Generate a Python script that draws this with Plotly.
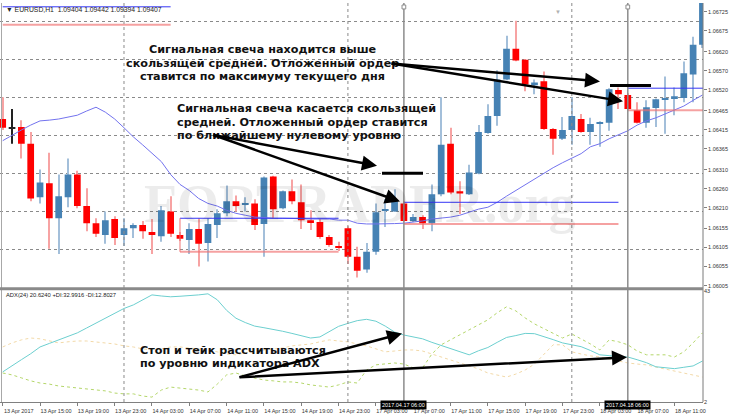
import plotly.graph_objects as go
import pandas as pd

# ---------------- data ----------------
times = list(pd.date_range('2017-04-13 11:00', '2017-04-14 23:00', freq='h')) + \
        list(pd.date_range('2017-04-17 00:00', '2017-04-18 14:00', freq='h'))

open_ = [1.06443, 1.06417, 1.06422, 1.06378, 1.06237, 1.06274, 1.06182, 1.06237, 1.06297, 1.06214,
         1.06169, 1.06138, 1.06180, 1.06138, 1.06156, 1.06164, 1.06146, 1.06135, 1.06200, 1.06138,
         1.06125, 1.06154, 1.06117, 1.06164, 1.06195, 1.06227, 1.06219, 1.06221, 1.06167, 1.06292,
         1.06208, 1.06253, 1.06224, 1.06177, 1.06172, 1.06133, 1.06109, 1.06156, 1.06081, 1.06047,
         1.06094, 1.06203, 1.06200, 1.06221, 1.06175, 1.06185, 1.06169, 1.06245, 1.06378, 1.06253,
         1.06245, 1.06300, 1.06406, 1.06451, 1.06547, 1.06628, 1.06599, 1.06532, 1.06542, 1.06417,
         1.06391, 1.06414, 1.06443, 1.06409, 1.06430, 1.06433, 1.06519, 1.06506, 1.06466, 1.06433,
         1.06472, 1.06495, 1.06498, 1.06498, 1.06560, 1.06638]
high = [1.06500, 1.06469, 1.06440, 1.06409, 1.06310, 1.06354, 1.06297, 1.06339, 1.06307, 1.06261,
        1.06182, 1.06200, 1.06187, 1.06182, 1.06169, 1.06175, 1.06180, 1.06214, 1.06240, 1.06146,
        1.06169, 1.06182, 1.06182, 1.06206, 1.06268, 1.06242, 1.06237, 1.06232, 1.06292, 1.06294,
        1.06255, 1.06284, 1.06271, 1.06203, 1.06180, 1.06138, 1.06120, 1.06161, 1.06107, 1.06117,
        1.06221, 1.06232, 1.06258, 1.06227, 1.06193, 1.06190, 1.06271, 1.06500, 1.06420, 1.06279,
        1.06323, 1.06427, 1.06482, 1.06571, 1.06662, 1.06701, 1.06601, 1.06547, 1.06568, 1.06419,
        1.06448, 1.06500, 1.06456, 1.06446, 1.06437, 1.06524, 1.06526, 1.06511, 1.06487, 1.06492,
        1.06497, 1.06555, 1.06526, 1.06594, 1.06659, 1.06765]
low = [1.06414, 1.06378, 1.06339, 1.06227, 1.06221, 1.06102, 1.06088, 1.06211, 1.06208, 1.06148,
       1.06133, 1.06115, 1.06112, 1.06109, 1.06130, 1.06128, 1.06088, 1.06120, 1.06133, 1.06122,
       1.06088, 1.06055, 1.06068, 1.06130, 1.06187, 1.06200, 1.06200, 1.06151, 1.06081, 1.06182,
       1.06206, 1.06219, 1.06154, 1.06151, 1.06128, 1.06107, 1.06096, 1.06062, 1.06026, 1.06039,
       1.06086, 1.06159, 1.06199, 1.06173, 1.06172, 1.06154, 1.06148, 1.06240, 1.06245, 1.06193,
       1.06243, 1.06298, 1.06404, 1.06425, 1.06545, 1.06595, 1.06516, 1.06508, 1.06414, 1.06349,
       1.06388, 1.06375, 1.06407, 1.06375, 1.06370, 1.06412, 1.06469, 1.06467, 1.06431, 1.06420,
       1.06422, 1.06404, 1.06453, 1.06487, 1.06487, 1.06630]
close = [1.06420, 1.06417, 1.06378, 1.06234, 1.06276, 1.06182, 1.06240, 1.06297, 1.06214, 1.06169,
         1.06141, 1.06177, 1.06130, 1.06156, 1.06164, 1.06148, 1.06138, 1.06203, 1.06141, 1.06128,
         1.06154, 1.06115, 1.06167, 1.06195, 1.06227, 1.06214, 1.06221, 1.06164, 1.06289, 1.06206,
         1.06253, 1.06227, 1.06177, 1.06172, 1.06133, 1.06112, 1.06104, 1.06081, 1.06044, 1.06094,
         1.06198, 1.06204, 1.06227, 1.06175, 1.06185, 1.06169, 1.06245, 1.06375, 1.06250, 1.06247,
         1.06302, 1.06409, 1.06451, 1.06547, 1.06628, 1.06597, 1.06534, 1.06539, 1.06417, 1.06391,
         1.06414, 1.06451, 1.06409, 1.06430, 1.06435, 1.06521, 1.06508, 1.06469, 1.06433, 1.06474,
         1.06495, 1.06496, 1.06503, 1.06563, 1.06638, 1.06750]

ma = [1.06386, 1.06401, 1.06414, 1.06427, 1.06438, 1.06440, 1.06443, 1.06448, 1.06453, 1.06464,
      1.06474, 1.06461, 1.06443, 1.06420, 1.06396, 1.06375, 1.06352, 1.06331, 1.06297, 1.06271,
      1.06255, 1.06234, 1.06221, 1.06214, 1.06203, 1.06195, 1.06190, 1.06185, 1.06184, 1.06182,
      1.06182, 1.06182, 1.06181, 1.06180, 1.06180, 1.06180, 1.06177, 1.06177, 1.06169, 1.06167,
      1.06167, 1.06167, 1.06168, 1.06169, 1.06172, 1.06175, 1.06180, 1.06182, 1.06185, 1.06190,
      1.06198, 1.06206, 1.06211, 1.06224, 1.06240, 1.06255, 1.06271, 1.06287, 1.06302, 1.06315,
      1.06328, 1.06339, 1.06352, 1.06370, 1.06378, 1.06391, 1.06401, 1.06412, 1.06427, 1.06438,
      1.06446, 1.06456, 1.06466, 1.06477, 1.06492, 1.06506]

adx = [13.1, 15.5, 17.6, 19.8, 22.3, 23.6, 24.9, 26.2, 27.5, 29.3,
       31.1, 32.9, 34.7, 36.5, 37.8, 39.6, 41.5, 41.1, 40.8, 41.0,
       41.2, 41.5, 41.9, 39.7, 35.8, 32.9, 31.3, 30.0, 29.4, 28.8,
       28.1, 27.3, 26.4, 25.6, 26.0, 28.0, 29.9, 31.0, 32.0, 32.5,
       31.8, 30.0, 27.8, 26.7, 26.0, 25.3, 24.0, 22.9, 21.8, 20.6,
       19.4, 20.9, 22.1, 24.0, 25.8, 26.5, 27.3, 27.2, 26.2, 25.0,
       23.8, 23.1, 22.4, 21.0, 19.4, 19.1, 18.9, 18.6, 17.6, 16.5,
       15.0, 14.6, 14.3, 14.8, 15.3, 17.1]
plus_di = [12.7, 12.0, 10.9, 9.8, 9.0, 8.6, 7.9, 7.5, 7.2, 6.8,
           6.4, 6.1, 5.3, 5.0, 5.0, 4.2, 3.8, 6.4, 7.5, 7.2,
           6.8, 6.4, 5.7, 8.6, 12.0, 12.7, 11.6, 10.9, 10.1, 9.8,
           9.4, 9.4, 9.0, 8.3, 7.9, 7.5, 8.3, 9.4, 9.0, 13.8,
           15.7, 16.0, 16.4, 16.0, 14.6, 14.6, 19.7, 23.1, 24.9, 26.8,
           28.6, 30.4, 32.3, 34.9, 37.1, 35.6, 33.0, 30.8, 29.0, 27.1,
           25.6, 27.1, 25.3, 23.4, 21.2, 24.9, 24.2, 23.1, 20.8, 19.4,
           19.4, 19.4, 18.6, 20.5, 23.8, 27.5]
minus_di = [22.3, 23.8, 24.9, 25.6, 25.3, 24.5, 23.8, 24.2, 24.5, 24.5,
            24.2, 23.8, 23.4, 22.7, 22.3, 21.6, 21.2, 21.6, 22.3, 22.3,
            21.9, 21.6, 21.2, 20.5, 19.7, 19.4, 20.1, 20.8, 21.2, 21.6,
            21.9, 22.7, 23.1, 23.4, 24.2, 24.9, 24.5, 24.2, 23.4, 22.7,
            21.6, 20.5, 20.8, 21.2, 21.2, 20.8, 19.7, 18.6, 17.5, 16.4,
            15.3, 14.2, 12.7, 12.0, 11.2, 12.3, 13.8, 16.0, 19.7, 23.1,
            23.1, 20.5, 19.7, 19.0, 18.6, 17.9, 17.1, 16.4, 16.0, 15.7,
            14.9, 14.2, 13.5, 12.7, 12.0, 11.2]

# pending-order levels: start bar, end bar, upper (blue) and lower (red) prices
level_start = ['2017-04-13 11:00', '2017-04-14 06:00', '2017-04-17 06:00', '2017-04-18 06:00']
level_end = ['2017-04-14 05:00', '2017-04-14 23:00', '2017-04-18 05:00', '2017-04-18 15:00']
level_high = [1.06738, 1.06182, 1.06224, 1.06524]
level_low = [1.06691, 1.06094, 1.06167, 1.06466]

price_ticks = [1.06725, 1.06675, 1.06620, 1.06570, 1.06520, 1.06465, 1.06415, 1.06365,
               1.06310, 1.06260, 1.06210, 1.06155, 1.06105, 1.06055, 1.06005]
price_grid = [1.061, 1.062, 1.063, 1.064, 1.065, 1.066, 1.067]
marked_bars = ['2017-04-17 06:00', '2017-04-18 06:00']

# ---------------- helpers ----------------
n = len(times)
idx = list(range(n))
tpos = {t.strftime('%Y-%m-%d %H:%M'): i for i, t in enumerate(times)}
def bar_of(s):
    return tpos.get(s, n)

PW, PH = 703.0, 402.0
def px(x): return x / PW
def py(y): return 1 - y / PH

BULL, BULL_W = '#4682B4', '#A3BFDA'
BEAR, BEAR_W = '#FF0000', '#F7A3A3'
DOJI = '#222222'

fig = go.Figure()

groups = {'bull': [], 'bear': [], 'doji': []}
for i in idx:
    if close[i] > open_[i]:
        groups['bull'].append(i)
    elif close[i] < open_[i]:
        groups['bear'].append(i)
    else:
        groups['doji'].append(i)
cols = {'bull': (BULL, BULL_W), 'bear': (BEAR, BEAR_W), 'doji': (DOJI, DOJI)}

# wicks
for g, ii in groups.items():
    fig.add_trace(go.Bar(x=ii, base=[low[i] for i in ii], y=[high[i] - low[i] for i in ii],
                         width=0.11, marker=dict(color=cols[g][1], line=dict(width=0)),
                         xaxis='x', yaxis='y', hoverinfo='skip', showlegend=False))
# bodies
for g, ii in groups.items():
    fig.add_trace(go.Bar(x=ii, base=[min(open_[i], close[i]) for i in ii],
                         y=[max(abs(close[i] - open_[i]), 0.00003) for i in ii],
                         width=0.72, marker=dict(color=cols[g][0], line=dict(width=0)),
                         xaxis='x', yaxis='y', showlegend=False))

# moving average
fig.add_trace(go.Scatter(x=idx, y=ma, mode='lines', line=dict(color='#7373EE', width=1),
                         xaxis='x', yaxis='y', showlegend=False))

# levels
for s, e, hi, lo in zip(level_start, level_end, level_high, level_low):
    a, b = bar_of(s), bar_of(e)
    fig.add_trace(go.Scatter(x=[a, b], y=[lo, lo], mode='lines',
                             line=dict(color='rgba(240,110,110,0.65)', width=2),
                             xaxis='x', yaxis='y', showlegend=False))
    fig.add_trace(go.Scatter(x=[a, b], y=[hi, hi], mode='lines',
                             line=dict(color='#3535F5', width=1),
                             xaxis='x', yaxis='y', showlegend=False))
a = bar_of(level_start[1])
fig.add_trace(go.Scatter(x=[a, a], y=[level_low[1], level_high[1]], mode='lines',
                         line=dict(color='rgba(240,110,110,0.65)', width=1.5),
                         xaxis='x', yaxis='y', showlegend=False))

# ADX panel
fig.add_trace(go.Scatter(x=idx, y=minus_di, mode='lines', line=dict(color='#F2D9A8', width=1, dash='dot'),
                         xaxis='x2', yaxis='y2', showlegend=False))
fig.add_trace(go.Scatter(x=idx, y=plus_di, mode='lines', line=dict(color='#B4D66A', width=1, dash='dot'),
                         xaxis='x2', yaxis='y2', showlegend=False))
fig.add_trace(go.Scatter(x=idx, y=adx, mode='lines', line=dict(color='#6CCFCF', width=1),
                         xaxis='x2', yaxis='y2', showlegend=False))

# ---------------- axes ----------------
xr = [-0.29, 75.06]
tick_idx = [i for i in idx if i % 4 == 0]
tick_txt = [('13 Apr 2017' if i == 0 else times[i].strftime('%d %b %H:%M')) for i in tick_idx]

main_top = 287
adx_top = 290
fig.update_layout(
    width=730, height=419, margin=dict(l=0, r=27, t=0, b=17),
    paper_bgcolor='white', plot_bgcolor='white', barmode='overlay',
    font=dict(family='Liberation Sans', color='#222'),
    xaxis=dict(domain=[0, 1], range=xr, anchor='y', showticklabels=False, showgrid=False,
               zeroline=False, ticks=''),
    xaxis2=dict(domain=[0, 1], range=xr, anchor='y2', matches='x', tickmode='array',
                tickvals=tick_idx, ticktext=tick_txt, tickfont=dict(size=5.5, color='#333'),
                ticks='outside', ticklen=3, tickcolor='#808080', showgrid=False, zeroline=False,
                showline=True, linecolor='#808080', ticklabelshift=16),
    yaxis=dict(domain=[1 - main_top / PH, 1], range=[1.05999, 1.06748], side='right', anchor='x',
               tickmode='array', tickvals=price_ticks, ticktext=['%.5f' % v for v in price_ticks],
               tickfont=dict(size=5.5, color='#333'), ticks='outside', ticklen=3, tickcolor='#808080',
               showgrid=False, zeroline=False,
               minor=dict(tickmode='array', tickvals=price_grid, showgrid=True, griddash='dot',
                          gridcolor='#8a8a8a', gridwidth=1, ticks='')),
    yaxis2=dict(domain=[0, 1 - adx_top / PH], range=[2, 43], side='right', anchor='x2',
                tickmode='array', tickvals=[2, 43], ticktext=['2', '43'],
                tickfont=dict(size=5.5, color='#333'), ticks='', showgrid=False, zeroline=False),
)

shapes = []
# day separators and marked bars
for i in idx:
    if times[i].hour == 0:
        shapes.append(dict(type='line', xref='x', yref='paper', x0=i, x1=i, y0=0, y1=1,
                           line=dict(color='#8a8a8a', width=1, dash='dot')))
for s in marked_bars:
    i = bar_of(s)
    shapes.append(dict(type='line', xref='x', yref='paper', x0=i, x1=i, y0=0, y1=1,
                       line=dict(color='#8c8c8c', width=1.5)))
    # small handle on top of the marked bar line
    shapes.append(dict(type='rect', xref='x', yref='paper', x0=i - 0.2, x1=i + 0.2,
                       y0=py(6), y1=py(2), fillcolor='white', line=dict(color='#8c8c8c', width=1)))
# frame
shapes.append(dict(type='line', xref='paper', yref='paper', x0=1, x1=1, y0=0, y1=1,
                   line=dict(color='#7a7a7a', width=1)))
shapes.append(dict(type='line', xref='paper', yref='paper', x0=px(1.5), x1=px(1.5), y0=0, y1=1,
                   line=dict(color='#a8a8a8', width=1)))
shapes.append(dict(type='rect', xref='paper', yref='paper', x0=0, x1=1, y0=py(289.5), y1=py(286.5),
                   fillcolor='#8a8a8a', line=dict(width=0)))
# black level marks
for (x0, x1, y) in [(610, 651, 83), (382, 423, 171.5)]:
    shapes.append(dict(type='line', xref='paper', yref='paper', x0=px(x0), x1=px(x1), y0=py(y), y1=py(y),
                       line=dict(color='black', width=3)))
fig.update_layout(shapes=shapes)

ann = []
# watermark
ann.append(dict(text='<b>FORTRADER.org</b>', xref='paper', yref='paper', x=px(360), y=py(203),
                showarrow=False, font=dict(family='Liberation Serif', size=54, color='rgba(0,0,0,0.075)')))
# headers
ann.append(dict(text='▼ EURUSD,H1  1.09404 1.09442 1.09394 1.09407', xref='paper', yref='paper',
                x=px(4), y=py(7), xanchor='left', yanchor='middle', showarrow=False,
                font=dict(size=6.8, color='#222')))
ann.append(dict(text='ADX(24) 20.6240 +DI:32.9916 -DI:12.8027', xref='paper', yref='paper',
                x=px(4), y=py(294), xanchor='left', yanchor='middle', showarrow=False,
                font=dict(size=5.8, color='#222')))
# chart shift marker
ann.append(dict(text='▼', xref='paper', yref='paper', x=px(563), y=py(4), showarrow=False,
                font=dict(size=6, color='#b0b0b0')))
# marked bar time boxes
for s in marked_bars:
    i = bar_of(s)
    ann.append(dict(text=times[i].strftime('%Y.%m.%d %H:%M'), xref='x2', yref='paper', x=i,
                    y=py(410), showarrow=False, bgcolor='black', borderpad=1,
                    font=dict(size=5.5, color='white')))
# callout text
TF = dict(family='DejaVu Sans', size=11.2, color='#111')
lines = [
    ('Сигнальная свеча находится выше', 263, 38),
    ('скользящей средней. Отложенный ордер', 262, 52),
    ('ставится по максимуму текущего дня', 262, 65.5),
    ('Сигнальная свеча касается скользящей', 175, 98),
    ('средней. Отложенный ордер ставится', 175, 111.5),
    ('по ближайшему нулевому уровню', 175, 125),
    ('Стоп и тейк рассчитываются', 138, 359),
    ('по уровню индикатора ADX', 138, 372),
]
for t, x, y in lines:
    ann.append(dict(text='<b>%s</b>' % t, xref='paper', yref='paper', x=px(x), y=py(y),
                    showarrow=False, font=TF))
# arrows: (tail x, tail y, head x, head y)
arrows = [(390, 61, 600, 79), (390, 61, 623, 99),
          (212, 133, 377, 164), (212, 133, 400, 200),
          (238, 377, 402, 333), (238, 377, 627, 357)]
for tx, ty, hx, hy in arrows:
    ann.append(dict(text='', xref='paper', yref='paper', x=px(hx), y=py(hy),
                    ax=tx - hx, ay=ty - hy, axref='pixel', ayref='pixel', showarrow=True,
                    arrowhead=2, arrowsize=1.2, arrowwidth=2.5, arrowcolor='black', standoff=0))
fig.update_layout(annotations=ann)

fig.write_html('out.html', config={'displayModeBar': False},
               post_script="document.body.style.margin='0';")
